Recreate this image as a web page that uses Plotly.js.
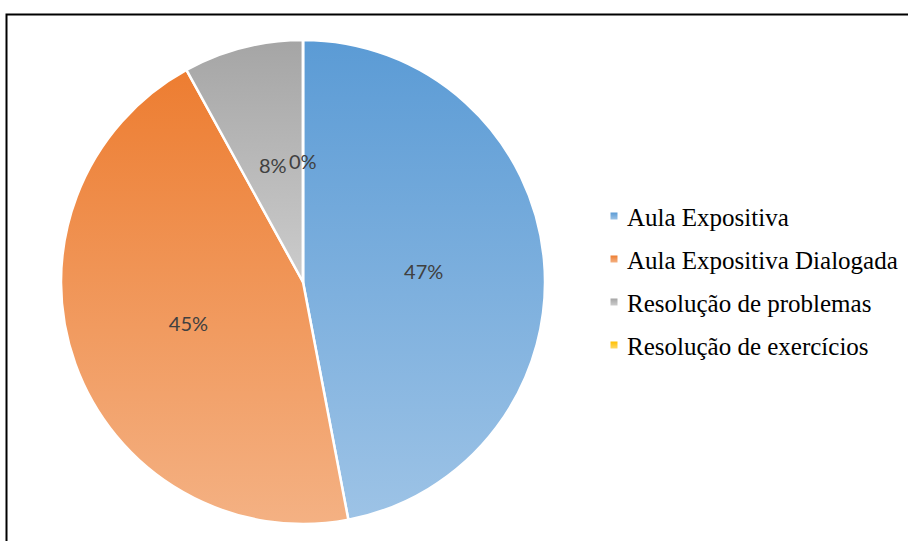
<!DOCTYPE html>
<html><head><meta charset="utf-8">
<script src="https://cdn.plot.ly/plotly-3.0.1.min.js"></script>
<style>html,body{margin:0;padding:0;background:#fff}#chart{width:908px;height:541px}</style>
</head><body><div id="chart"></div>
<script>
const categories = ['Aula Expositiva', 'Aula Expositiva Dialogada', 'Resolução de problemas', 'Resolução de exercícios'];
const shares = [47, 45, 8, 0];
const topColors = ['#5b9bd5', '#ed7d31', '#a5a5a5', '#ffc000'];
const bottomColors = ['#9dc3e6', '#f4b183', '#cccccc', '#ffd966'];
// slices whose labels the library cannot fit inside are labelled by annotations
const insideLabel = [true, true, false, false];

const W = 908, H = 541;
const cx = 303, cy = 282, R = 242;
const labelFont = {family: 'Lato, "Liberation Sans", sans-serif', size: 20, color: '#404040'};

const total = shares.reduce(function (a, b) { return a + b; }, 0);

const trace = {
  type: 'pie',
  labels: categories,
  values: shares,
  sort: false,
  direction: 'clockwise',
  rotation: 0,
  marker: {colors: topColors, line: {color: '#ffffff', width: 2.5}},
  textinfo: 'percent',
  textposition: insideLabel.map(function (b) { return b ? 'inside' : 'none'; }),
  insidetextorientation: 'horizontal',
  textfont: labelFont,
  hoverinfo: 'label+percent',
  domain: {x: [(cx - R) / W, (cx + R) / W], y: [(H - cy - R) / H, (H - cy + R) / H]}
};

// data-driven label positions (half radius along each slice's mid-angle)
const annotations = [];
let cum = 0;
shares.forEach(function (v, i) {
  const mid = (cum + v / 2) / total * 2 * Math.PI;
  cum += v;
  if (insideLabel[i]) return;
  const px = cx + 0.5 * R * Math.sin(mid);
  const py = cy - 0.5 * R * Math.cos(mid);
  annotations.push({
    xref: 'paper', yref: 'paper', x: px / W, y: (H - py) / H,
    xanchor: 'center', yanchor: 'middle', showarrow: false,
    text: Math.round(v / total * 100) + '%', font: labelFont
  });
});

const layout = {
  width: W, height: H,
  margin: {l: 0, r: 0, t: 0, b: 0},
  paper_bgcolor: '#ffffff',
  showlegend: true,
  legend: {
    x: 0.645, y: 0.62, xanchor: 'left', yanchor: 'middle',
    font: {family: '"Liberation Serif", "Times New Roman", serif', size: 25, color: '#000000'},
    bgcolor: 'rgba(0,0,0,0)'
  },
  annotations: annotations,
  shapes: [{
    type: 'rect', xref: 'paper', yref: 'paper',
    x0: 6.5 / W, x1: 1.05, y0: -0.05, y1: (H - 14.5) / H,
    line: {color: '#000000', width: 2}, fillcolor: 'rgba(0,0,0,0)', layer: 'above'
  }]
};

Plotly.newPlot('chart', [trace], layout, {displayModeBar: false, staticPlot: true}).then(function (gd) {
  const svg = gd.querySelector('svg.main-svg');
  const NS = 'http://www.w3.org/2000/svg';
  let defs = svg.querySelector('defs');
  if (!defs) { defs = document.createElementNS(NS, 'defs'); svg.insertBefore(defs, svg.firstChild); }
  topColors.forEach(function (c, i) {
    const g = document.createElementNS(NS, 'linearGradient');
    g.setAttribute('id', 'grad' + i);
    g.setAttribute('x1', '0'); g.setAttribute('y1', '0'); g.setAttribute('x2', '0'); g.setAttribute('y2', '1');
    const s1 = document.createElementNS(NS, 'stop'); s1.setAttribute('offset', '0'); s1.setAttribute('stop-color', c);
    const s2 = document.createElementNS(NS, 'stop'); s2.setAttribute('offset', '1'); s2.setAttribute('stop-color', bottomColors[i]);
    g.appendChild(s1); g.appendChild(s2); defs.appendChild(g);
  });
  gd.querySelectorAll('g.slice').forEach(function (sl, i) {
    const p = sl.querySelector('path.surface');
    if (p) p.style.fill = 'url(#grad' + i + ')';
  });
  // legend layout
  const sb = gd.querySelector('.legend .scrollbox');
  if (sb) sb.removeAttribute('clip-path');
  const items = gd.querySelectorAll('.legend .traces');
  items.forEach(function (it, i) {
    const sym = it.querySelector('path.legendpie') || it.querySelector('.legendpoints path');
    const txt = it.querySelector('text.legendtext');
    if (sym) {
      sym.setAttribute('d', 'M3.5,3.5H-3.5V-3.5H3.5Z');
      sym.style.fill = 'url(#grad' + i + ')';
      sym.style.strokeWidth = '0';
    }
    const m = /translate\(\s*([-\d.]+)[ ,]*([-\d.]*)\)/.exec(it.getAttribute('transform') || '');
    let tx = m ? parseFloat(m[1]) : 0, ty = m && m[2] ? parseFloat(m[2]) : 0;
    const sb2 = sym.getBoundingClientRect();
    const tb = txt.getBoundingClientRect();
    const dy = (216 + 43 * i) - (sb2.top + sb2.height / 2);
    const dx = 627 - tb.left;
    it.setAttribute('transform', 'translate(' + (tx + dx) + ',' + (ty + dy) + ')');
    const sb3 = sym.getBoundingClientRect();
    const sdx = 614 - (sb3.left + sb3.width / 2);
    const pm = /translate\(\s*([-\d.]+)[ ,]*([-\d.]*)\)/.exec(sym.getAttribute('transform') || '');
    const px = pm ? parseFloat(pm[1]) : 0, py = pm && pm[2] ? parseFloat(pm[2]) : 0;
    sym.setAttribute('transform', 'translate(' + (px + sdx) + ',' + py + ')');
  });
});
</script>
</body></html>
